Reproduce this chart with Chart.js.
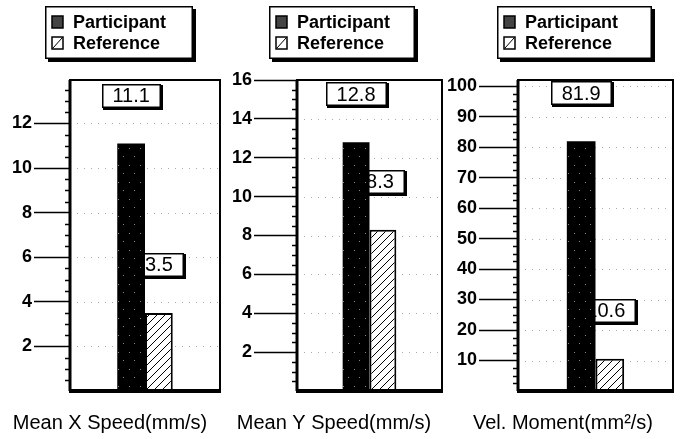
<!DOCTYPE html>
<html>
<head>
<meta charset="utf-8">
<script src="https://cdn.jsdelivr.net/npm/chart.js@4"></script>
<style>
html, body { margin: 0; padding: 0; background: #fff; }
#wrap { position: relative; width: 681px; height: 439px; overflow: hidden; }
canvas { position: absolute; top: 0; }
</style>
</head>
<body>
<div id="wrap">
  <canvas id="c0" width="225" height="439" style="left:0px"></canvas>
  <canvas id="c1" width="220" height="439" style="left:225px"></canvas>
  <canvas id="c2" width="236" height="439" style="left:445px"></canvas>
</div>
<script>
const seriesNames = ["Participant", "Reference"];
const axisTitles = ["Mean X Speed(mm/s)", "Mean Y Speed(mm/s)", "Vel. Moment(mm²/s)"];
const participantValues = [11.1, 12.8, 81.9];
const referenceValues = [3.5, 8.3, 10.6];
const axisMax = [13.95, 16, 102];
const majorStep = [2, 2, 10];
const minorStep = [0.5, 0.5, 2.5];

const FONT = '"Liberation Sans", Arial, sans-serif';

// where each panel sits inside its canvas
let panels = [
    {id: "c0", axisWidth: 70, padRight: 5, bottomH: 48, tickLength: 36, catPct: 0.37, refShift: 0, legendX: 45, legendW: 148, titleX: 110},
    {id: "c1", axisWidth: 72, padRight: 3, bottomH: 48, tickLength: 43, catPct: 0.37, refShift: -3, legendX: 44, legendW: 146, titleX: 109},
    {id: "c2", axisWidth: 73, padRight: 8, bottomH: 48, tickLength: 39, catPct: 0.37, refShift: -4, legendX: 52, legendW: 155, titleX: 118}
];

let speckle = () => {
    let c = document.createElement("canvas");
    c.width = 11; c.height = 17;
    let g = c.getContext("2d");
    g.fillStyle = "#000";
    g.fillRect(0, 0, 11, 17);
    g.fillStyle = "#888";
    g.fillRect(2, 3, 1, 1);
    g.fillRect(8, 12, 1, 1);
    return g.createPattern(c, "repeat");
};

let hatch = () => {
    let c = document.createElement("canvas");
    c.width = 8; c.height = 8;
    let g = c.getContext("2d");
    g.fillStyle = "#fff";
    g.fillRect(0, 0, 8, 8);
    g.strokeStyle = "#000";
    g.lineWidth = 1;
    g.beginPath();
    g.moveTo(0, 8); g.lineTo(8, 0);
    g.moveTo(-1, 1); g.lineTo(1, -1);
    g.moveTo(7, 9); g.lineTo(9, 7);
    g.stroke();
    return g.createPattern(c, "repeat");
};

let labelBox = (ctx, text, cx, cy) => {
    ctx.save();
    ctx.font = `20px ${FONT}`;
    let w = Math.round(ctx.measureText(text).width + 22), h = 24;
    let x = Math.round(cx - w / 2), y = Math.round(cy - h / 2);
    ctx.fillStyle = "#000";
    ctx.fillRect(x + 1, y + 1, w + 1, h + 1);
    ctx.fillStyle = "#fff";
    ctx.fillRect(x, y, w, h);
    ctx.strokeStyle = "#000";
    ctx.lineWidth = 1.5;
    ctx.strokeRect(x + 0.75, y + 0.75, w - 1.5, h - 1.5);
    ctx.fillStyle = "#000";
    ctx.textAlign = "center";
    ctx.textBaseline = "middle";
    ctx.fillText(text, cx, cy + 1);
    ctx.restore();
};

let drawLegend = (ctx, p) => {
    let x = p.legendX, y = 6, w = p.legendW, h = 53;
    ctx.save();
    ctx.fillStyle = "#000";
    ctx.fillRect(x + 3, y + 3, w, h);
    ctx.fillStyle = "#fff";
    ctx.fillRect(x, y, w, h);
    ctx.strokeStyle = "#000";
    ctx.lineWidth = 1.5;
    ctx.strokeRect(x + 0.75, y + 0.75, w - 1.5, h - 1.5);

    // participant swatch
    ctx.fillStyle = "#444";
    ctx.fillRect(x + 7, 16, 11, 12);
    ctx.strokeRect(x + 7, 16, 11, 12);
    // reference swatch
    ctx.fillStyle = "#fff";
    ctx.fillRect(x + 7, 37, 11, 12);
    ctx.strokeRect(x + 7, 37, 11, 12);
    ctx.lineWidth = 1;
    ctx.beginPath();
    ctx.moveTo(x + 8, 48); ctx.lineTo(x + 17, 38);
    ctx.stroke();

    ctx.fillStyle = "#000";
    ctx.font = `bold 18px ${FONT}`;
    ctx.textAlign = "left";
    ctx.textBaseline = "middle";
    ctx.fillText(seriesNames[0], x + 28, 23);
    ctx.fillText(seriesNames[1], x + 28, 44);
    ctx.restore();
};

let charts = [];

panels.forEach((p, i) => {
    let panelPlugin = {
        id: "panel" + i,
        beforeDatasetsDraw(chart) {
            let ctx = chart.ctx, a = chart.chartArea, ys = chart.scales.y;
            ctx.save();
            ctx.strokeStyle = "#aaa";
            ctx.lineWidth = 1;
            ctx.setLineDash([1, 6]);
            ys.ticks.forEach(t => {
                if (t.value <= 0) return;
                let y = Math.round(ys.getPixelForValue(t.value)) + 0.5;
                ctx.beginPath();
                ctx.moveTo(a.left, y);
                ctx.lineTo(a.right, y);
                ctx.stroke();
            });
            ctx.restore();
            let ref = chart.getDatasetMeta(1).data[0];
            labelBox(ctx, String(referenceValues[i]), ref.x + p.refShift, Math.max(ref.y - 48, a.top + 12.5));
        },
        afterDatasetsDraw(chart) {
            let ctx = chart.ctx, a = chart.chartArea, ys = chart.scales.y;
            let part = chart.getDatasetMeta(0).data[0];
            labelBox(ctx, String(participantValues[i]), part.x, Math.max(part.y - 48, a.top + 12.5));

            ctx.save();
            ctx.strokeStyle = "#000";
            ctx.lineWidth = 2;
            ctx.strokeRect(a.left, a.top, a.right - a.left, a.bottom - a.top);
            ctx.fillStyle = "#000";
            ctx.fillRect(a.left - 1, a.bottom - 2, a.right - a.left + 2, 4);
            ctx.fillRect(a.left - 1.5, a.top, 3, a.bottom - a.top);
            ctx.lineWidth = 1.5;
            for (let v = minorStep[i]; v < axisMax[i]; v += minorStep[i]) {
                if (Math.abs(v / majorStep[i] - Math.round(v / majorStep[i])) < 1e-6) continue;
                let y = Math.round(ys.getPixelForValue(v)) + 0.5;
                ctx.beginPath();
                ctx.moveTo(a.left - 5, y);
                ctx.lineTo(a.left, y);
                ctx.stroke();
            }
            ctx.restore();
        },
        afterDraw(chart) {
            let ctx = chart.ctx;
            drawLegend(ctx, p);
            ctx.save();
            ctx.fillStyle = "#000";
            ctx.font = `20px ${FONT}`;
            ctx.textAlign = "center";
            ctx.textBaseline = "middle";
            ctx.fillText(axisTitles[i], p.titleX, 423);
            ctx.restore();
        }
    };

    charts.push(new Chart(p.id, {
        type: "bar",
        data: {
            labels: [""],
            datasets: [
                {
                    label: seriesNames[0],
                    data: [participantValues[i]],
                    backgroundColor: speckle(),
                    borderWidth: 0
                },
                {
                    label: seriesNames[1],
                    data: [referenceValues[i]],
                    backgroundColor: hatch(),
                    borderColor: "#000",
                    borderWidth: 2
                }
            ]
        },
        options: {
            responsive: false,
            animation: false,
            events: [],
            barPercentage: 1,
            categoryPercentage: p.catPct,
            layout: {padding: {top: 80, right: p.padRight, left: 0, bottom: 0}},
            plugins: {
                legend: {display: false},
                tooltip: {enabled: false}
            },
            scales: {
                x: {
                    ticks: {display: false},
                    grid: {display: false},
                    border: {display: false},
                    afterFit: s => { s.height = p.bottomH; s.paddingLeft = 0; s.paddingRight = 0; }
                },
                y: {
                    min: 0,
                    max: axisMax[i],
                    afterFit: s => { s.width = p.axisWidth; s.paddingTop = 0; s.paddingBottom = 0; },
                    ticks: {
                        stepSize: majorStep[i],
                        includeBounds: false,
                        autoSkip: false,
                        color: "#000",
                        padding: 2,
                        font: {family: FONT, size: 18, weight: "bold"},
                        callback: v => v > 0 ? String(v) : null
                    },
                    grid: {
                        drawOnChartArea: false,
                        tickLength: p.tickLength,
                        tickColor: "#000",
                        tickWidth: 1.5
                    },
                    border: {display: false}
                }
            }
        },
        plugins: [panelPlugin]
    }));
});
</script>
</body>
</html>
